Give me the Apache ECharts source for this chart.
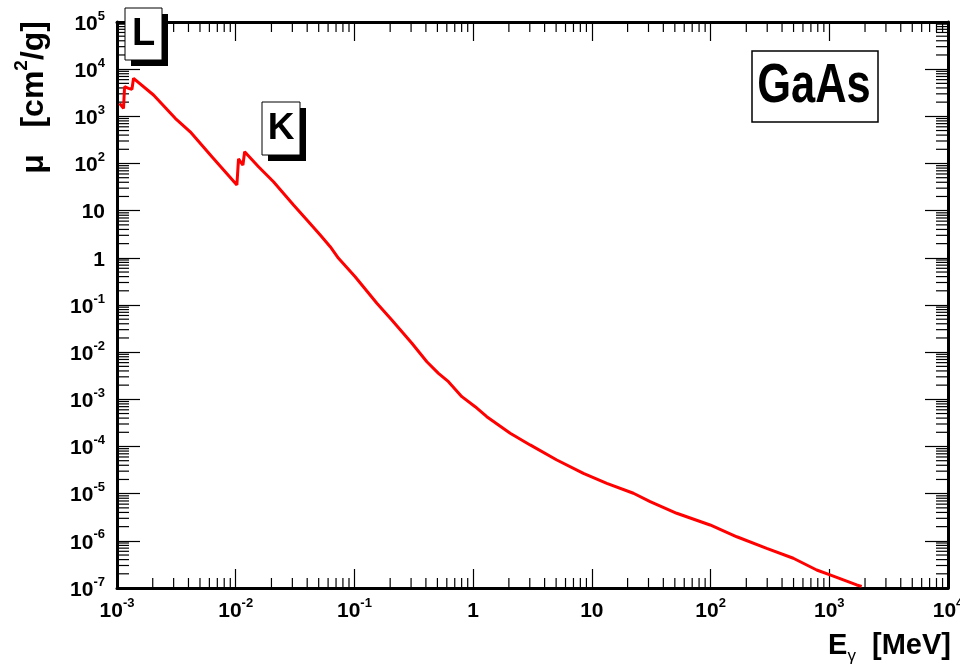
<!DOCTYPE html>
<html>
<head>
<meta charset="utf-8">
<script src="https://cdn.jsdelivr.net/npm/echarts@6/dist/echarts.min.js"></script>
<style>
    html, body { margin: 0; padding: 0; background: #fff; }
    #chart-container { width: 960px; height: 667px; }
</style>
</head>
<body>
<div id="chart-container"></div>
<script>
// mass attenuation of GaAs
const energyMeV = [1.051e-3, 1.135e-3, 1.158e-3, 1.251e-3, 1.336e-3, 1.378e-3, 2.031e-3, 3.094e-3, 4.138e-3, 6.303e-3,
    1.023e-2, 1.056e-2, 1.150e-2, 1.189e-2, 1.556e-2, 2.080e-2, 3.069e-2, 4.102e-2, 5.152e-2, 6.252e-2, 7.345e-2,
    0.1014, 0.1545, 0.2065, 0.3048, 0.4074, 0.5105, 0.6194, 0.8035,
    1.040, 1.303, 2.051, 3.020, 5.070, 8.492, 13.37, 22.39, 30.97, 51.88, 99.1,
    166.3, 297.2, 497.7, 783.4, 1014, 1702, 1875];
const muCm2g = [1888, 1479, 4246, 3926, 3741, 6397, 2831, 908, 470, 139,
    35.0, 125, 92.9, 178, 85.5, 41.1, 13.2, 5.83, 3.05, 1.72, 0.977,
    0.398, 0.1086, 0.0481, 0.0154, 6.28e-3, 3.56e-3, 2.37e-3, 1.14e-3,
    6.98e-4, 4.29e-4, 1.91e-4, 1.08e-4, 5.18e-5, 2.70e-5, 1.66e-5, 1.02e-5, 6.76e-6, 3.84e-6, 2.17e-6,
    1.22e-6, 6.95e-7, 4.27e-7, 2.41e-7, 1.89e-7, 1.16e-7, 1.08e-7];

const xDecades = [-3, -2, -1, 0, 1, 2, 3, 4];
const yDecades = [-7, -6, -5, -4, -3, -2, -1, 0, 1, 2, 3, 4, 5];
const edgeNames = ['L', 'K'];
const materialName = 'GaAs';
const xTitle = ['E', 'γ', '  [MeV]'];
const yTitle = ['μ   [cm', '2', '/g]'];

const FONT = '"Liberation Sans", Arial, Helvetica, sans-serif';

const xMin = Math.pow(10, xDecades[0]);
const xMax = Math.pow(10, xDecades[xDecades.length - 1]);
const yMin = Math.pow(10, yDecades[0]);
const yMax = Math.pow(10, yDecades[yDecades.length - 1]);

// minor ticks 2..9 in every decade
const minorTicks = (decades) => {
    const out = [];
    for (let i = 0; i < decades.length - 1; i++) {
        for (let k = 2; k <= 9; k++) out.push(k * Math.pow(10, decades[i]));
    }
    return out;
};
const xMinor = minorTicks(xDecades);
const yMinor = minorTicks(yDecades);

const powLabel = (v) => {
    const e = Math.round(Math.log10(v));
    if (e === 0) return '{b|1}';
    if (e === 1) return '{b|10}';
    return '{b|10}{s|' + e + '}';
};
const labelRich = {
    b: { fontSize: 21, fontWeight: 'bold', fontFamily: FONT, color: '#000', verticalAlign: 'bottom', lineHeight: 25 },
    s: { fontSize: 13, fontWeight: 'bold', fontFamily: FONT, color: '#000', verticalAlign: 'top', lineHeight: 25 },
};

const frameLine = { show: true, onZero: false, lineStyle: { color: '#000', width: 3 } };

const makeX = (pos, showLabel) => ({
    type: 'log', logBase: 10, min: xMin, max: xMax, interval: 1, position: pos,
    axisLine: frameLine,
    axisTick: { show: true, inside: true, length: 19, lineStyle: { color: '#000', width: 1.2 } },
    axisLabel: { show: showLabel, margin: 9, formatter: powLabel, rich: labelRich },
    splitLine: { show: false },
});
const makeY = (pos, showLabel) => ({
    type: 'log', logBase: 10, min: yMin, max: yMax, interval: 1, position: pos,
    axisLine: frameLine,
    axisTick: { show: true, inside: true, length: 23, lineStyle: { color: '#000', width: 1.2 } },
    axisLabel: { show: showLabel, margin: 12, formatter: powLabel, rich: labelRich },
    splitLine: { show: false },
});

const myChart = echarts.init(document.getElementById('chart-container'));
myChart.setOption({
    animation: false,
    backgroundColor: '#fff',
    grid: { left: 117, right: 12, top: 22, bottom: 79, containLabel: false, outerBoundsMode: 'none' },
    xAxis: [makeX('bottom', true), makeX('top', false)],
    yAxis: [makeY('left', true), makeY('right', false)],
    series: [
        {
            type: 'custom',
            silent: true,
            clip: false,
            data: xMinor.map(v => [v, 1]),
            renderItem: (params, api) => {
                const v = api.value(0);
                const b = api.coord([v, yMin]);
                const t = api.coord([v, yMax]);
                const st = { stroke: '#000', lineWidth: 1.2 };
                return {
                    type: 'group',
                    children: [
                        { type: 'line', shape: { x1: b[0], y1: b[1], x2: b[0], y2: b[1] - 10 }, style: st },
                        { type: 'line', shape: { x1: t[0], y1: t[1], x2: t[0], y2: t[1] + 10 }, style: st },
                    ],
                };
            },
        },
        {
            type: 'custom',
            silent: true,
            clip: false,
            data: yMinor.map(v => [1, v]),
            renderItem: (params, api) => {
                const v = api.value(1);
                const l = api.coord([xMin, v]);
                const r = api.coord([xMax, v]);
                const st = { stroke: '#000', lineWidth: 1.2 };
                return {
                    type: 'group',
                    children: [
                        { type: 'line', shape: { x1: l[0], y1: l[1], x2: l[0] + 12, y2: l[1] }, style: st },
                        { type: 'line', shape: { x1: r[0], y1: r[1], x2: r[0] - 12, y2: r[1] }, style: st },
                    ],
                };
            },
        },
        {
            type: 'line',
            data: energyMeV.map((e, i) => [e, muCm2g[i]]),
            showSymbol: false,
            symbol: 'none',
            lineStyle: { color: '#ff0000', width: 3 },
            z: 5,
        },
    ],
    graphic: [
        // edge label L
        { type: 'rect', z: 100, shape: { x: 131, y: 14, width: 37, height: 52 }, style: { fill: '#000' } },
        { type: 'rect', z: 101, shape: { x: 125, y: 8, width: 37, height: 52 }, style: { fill: '#fff', stroke: '#000', lineWidth: 1 } },
        { type: 'text', z: 102, x: 143.5, y: 35, style: { text: edgeNames[0], fontSize: 38, fontWeight: 'bold', fontFamily: FONT, fill: '#000', align: 'center', verticalAlign: 'middle' } },
        // edge label K
        { type: 'rect', z: 100, shape: { x: 268, y: 108, width: 38, height: 53 }, style: { fill: '#000' } },
        { type: 'rect', z: 101, shape: { x: 262, y: 102, width: 38, height: 53 }, style: { fill: '#fff', stroke: '#000', lineWidth: 1 } },
        { type: 'text', z: 102, x: 281, y: 129, style: { text: edgeNames[1], fontSize: 37, fontWeight: 'bold', fontFamily: FONT, fill: '#000', align: 'center', verticalAlign: 'middle' } },
        // material box
        { type: 'rect', z: 100, shape: { x: 752, y: 51, width: 126, height: 71 }, style: { fill: '#fff', stroke: '#000', lineWidth: 1.5 } },
        { type: 'text', z: 101, x: 814, y: 87, scaleX: 0.79, style: { text: materialName, fontSize: 55, fontWeight: 'bold', fontFamily: FONT, fill: '#000', align: 'center', verticalAlign: 'middle' } },
        // axis titles
        {
            type: 'text', x: 951, y: 648,
            style: {
                text: '{b|' + xTitle[0] + '}{g|' + xTitle[1] + '}{b|' + xTitle[2] + '}',
                align: 'right', verticalAlign: 'middle',
                rich: {
                    b: { fontSize: 29, fontWeight: 'bold', fontFamily: FONT, fill: '#000', verticalAlign: 'top', lineHeight: 34 },
                    g: { fontSize: 17, fontFamily: FONT, fill: '#000', verticalAlign: 'bottom', lineHeight: 34 },
                },
            },
        },
        {
            type: 'text', x: 31, y: 21, rotation: Math.PI / 2,
            style: {
                text: '{b|' + yTitle[0] + '}{s|' + yTitle[1] + '}{b|' + yTitle[2] + '}',
                align: 'right', verticalAlign: 'middle',
                rich: {
                    b: { fontSize: 32, fontWeight: 'bold', fontFamily: FONT, fill: '#000', verticalAlign: 'bottom', lineHeight: 38 },
                    s: { fontSize: 19, fontWeight: 'bold', fontFamily: FONT, fill: '#000', verticalAlign: 'top', lineHeight: 38 },
                },
            },
        },
    ],
});
</script>
</body>
</html>
